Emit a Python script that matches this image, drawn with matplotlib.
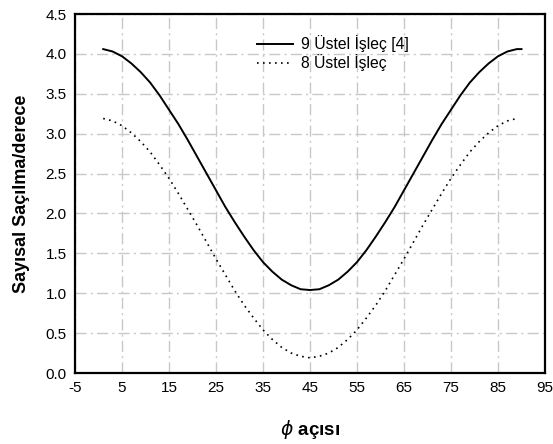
import numpy as np
import matplotlib
matplotlib.use('Agg')
from matplotlib import pyplot as plt

plt.rcParams['font.family'] = ['Liberation Sans', 'DejaVu Sans']
plt.rcParams['mathtext.fontset'] = 'dejavusans'
plt.rcParams['axes.unicode_minus'] = False

# açı değerleri (derece)
aci_9 = [1, 3, 5, 7, 9, 11, 13, 15, 17, 19, 21, 23, 25, 27, 29, 31, 33, 35, 37, 39, 41, 43, 45,
         47, 49, 51, 53, 55, 57, 59, 61, 63, 65, 67, 69, 71, 73, 75, 77, 79, 81, 83, 85, 87, 89, 90]

# 9 üstel işleç [4]
sacilma_9 = [4.06, 4.03, 3.97, 3.88, 3.77, 3.64, 3.48, 3.30, 3.12, 2.92, 2.71, 2.50, 2.29, 2.08,
             1.89, 1.71, 1.54, 1.39, 1.27, 1.17, 1.10, 1.05, 1.04,
             1.05, 1.10, 1.17, 1.27, 1.39, 1.54, 1.71, 1.89, 2.08, 2.29, 2.50, 2.71, 2.92, 3.12,
             3.30, 3.48, 3.64, 3.77, 3.88, 3.97, 4.03, 4.06, 4.06]

# 8 üstel işleç
aci_8 = [1, 3, 5, 7, 9, 11, 13, 15, 17, 19, 21, 23, 25, 27, 29, 31, 33, 35, 37, 39, 41, 43, 45,
         47, 49, 51, 53, 55, 57, 59, 61, 63, 65, 67, 69, 71, 73, 75, 77, 79, 81, 83, 85, 87, 89]
sacilma_8 = [3.19, 3.16, 3.10, 3.01, 2.90, 2.77, 2.61, 2.44, 2.25, 2.05, 1.85, 1.64, 1.43, 1.23,
             1.03, 0.85, 0.69, 0.54, 0.42, 0.32, 0.25, 0.21, 0.19,
             0.21, 0.25, 0.32, 0.42, 0.54, 0.69, 0.85, 1.03, 1.23, 1.43, 1.64, 1.85, 2.05, 2.25,
             2.44, 2.61, 2.77, 2.90, 3.01, 3.10, 3.16, 3.19]

x_ticks = [-5, 5, 15, 25, 35, 45, 55, 65, 75, 85, 95]
y_ticks = [0.0, 0.5, 1.0, 1.5, 2.0, 2.5, 3.0, 3.5, 4.0, 4.5]

fig = plt.figure(figsize=(5.53, 4.44), dpi=100)
ax = fig.add_axes([75 / 553, 71 / 444, 470 / 553, 359 / 444])

ax.plot(aci_9, sacilma_9, '-', color='black', linewidth=1.4, label='9 Üstel İşleç [4]')
ax.plot(aci_8, sacilma_8, color='black', linewidth=1.2, linestyle=(0, (1, 2.6)),
        label='8 Üstel İşleç')

ax.set_xlim(-5, 95)
ax.set_ylim(0, 4.5)
ax.set_xticks(x_ticks)
ax.set_yticks(y_ticks)
ax.set_yticklabels(['%.1f' % v for v in y_ticks])
ax.tick_params(length=0, labelsize=11, pad=6)

ax.grid(True, color='#c8c8c8', linestyle=(0, (8, 3, 1.5, 3)), linewidth=1.0)
ax.set_axisbelow(True)
for s in ax.spines.values():
  s.set_linewidth(1.6)

ax.set_ylabel('Sayısal Saçılma/derece', fontsize=13, fontweight='bold')
ax.yaxis.set_label_coords(-0.095, 0.5)
ax.set_xlabel(r'$\phi$ açısı', fontsize=13.5, fontweight='bold', va='top')
ax.xaxis.set_label_coords(0.5, -0.125)

ax.legend(loc='upper left', bbox_to_anchor=(0.387, 0.94), frameon=False, fontsize=11.3,
          handlelength=2.3, labelspacing=0.1, handletextpad=0.5,
          borderpad=0, borderaxespad=0)

fig.savefig('out.png', dpi=100)
